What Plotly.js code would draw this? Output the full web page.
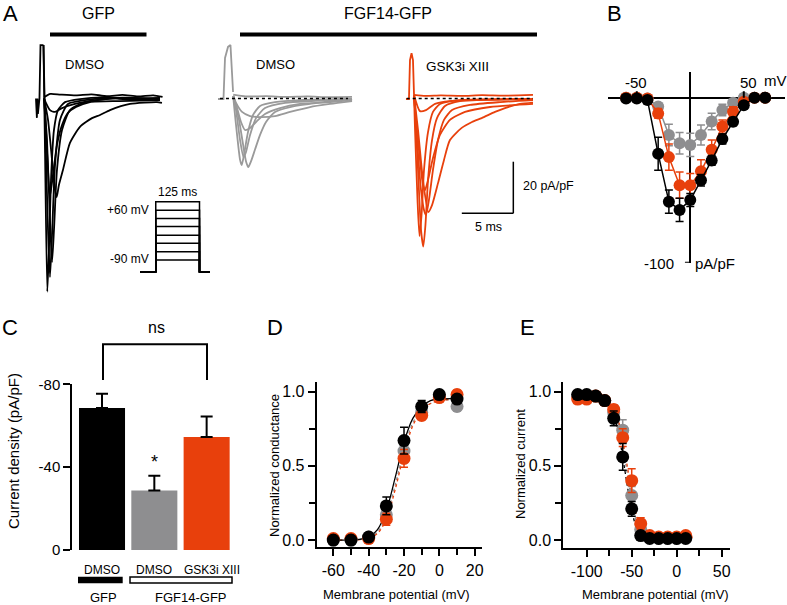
<!DOCTYPE html>
<html>
<head>
<meta charset="utf-8">
<script src="https://cdn.plot.ly/plotly-3.0.1.min.js"></script>
<style>
  html, body { margin: 0; padding: 0; background: #fff; }
  #fig { width: 787px; height: 605px; }
</style>
</head>
<body>
<div id="fig"></div>
<script>
// ---- colours
const cBlack = '#000000';
const cGray = '#8e8e90';
const cGrayTrace = '#9a9a9a';
const cOrange = '#e8400c';

// ---- A: current traces (time in ms, current in pA/pF)
const gfpArtifactT = [-0.39, -0.3, -0.25, -0.2, -0.05, 0.05, 0.34];
const gfpArtifactI = [0, -7.5, 0, -6, 0, 20.7, 20.7];
const gfpTraceT = [
  [0.34, 0.49, 0.71, 0.87, 1.07, 1.36, 1.75, 2.43, 3.88, 6.0, 8.5, 11.65],
  [0.34, 0.49, 0.78, 0.97, 1.17, 1.46, 1.94, 2.72, 4.37, 7.0, 9.5, 11.65],
  [0.4, 0.68, 0.97, 1.17, 1.36, 1.65, 2.14, 2.91, 4.37, 7.5, 11.65],
  [0.4, 0.58, 0.83, 0.97, 1.26, 1.65, 2.14, 2.72, 3.5, 4.85, 7.77, 11.65],
  [0.4, 0.78, 1.17, 1.46, 1.62, 1.84, 2.23, 2.91, 3.88, 5.05, 5.83, 6.8, 8.74, 11.36, 11.84],
  [0.4, 0.58, 0.97, 1.46, 2.14, 3.4, 4.85, 8.0, 11.65],
  [0.4, 1.0, 2.0, 3.5, 5.0, 6.5, 8.0, 9.5, 11.0, 11.9]
];
const gfpTraceI = [
  [20.7, -20.0, -74.9, -58.7, -31.6, -12.2, -4.5, -1.4, -0.2, 0.4, -0.3, 0.2],
  [20.7, -8.3, -51, -69.2, -52.9, -25.8, -8.3, -2.1, -0.6, 0.3, -0.4, 0.1],
  [0, -16.1, -47.1, -63.4, -50.9, -27.7, -12.2, -4.5, -1.4, 0.2, -0.2],
  [0, -12.2, -31.6, -37.8, -29.7, -18.0, -10.3, -5.6, -3.3, -1.4, -1.0, -0.6],
  [0, -8.3, -23.8, -35.5, -38.2, -33.5, -27.7, -17.2, -11.0, -7.6, -6.4, -4.5, -2.1, -1.4, -1.7],
  [0, -1.7, -4.5, -5.2, -3.7, -2.1, -1.0, 0.3, -0.2],
  [0.5, 1.8, 1.5, 1.2, 1.6, 0.9, 1.4, 0.8, 1.2, 0.6]
];

const fgfArtifactT = [-0.68, -0.15, 0, 0.29, 0.53, 0.78];
const fgfArtifactI = [-0.2, -0.2, 15.7, 20.0, 20.7, 2.5];
const fgfTraceT = [
  [0.8, 0.87, 1.17, 1.46, 1.62, 1.84, 2.23, 2.72, 3.4, 4.85, 7.28, 12.33],
  [0.8, 0.97, 1.36, 1.75, 2.04, 2.26, 2.52, 2.91, 3.4, 3.98, 4.85, 6.31, 8.25, 10.19, 12.33],
  [0.8, 1.07, 1.46, 1.8, 2.04, 2.43, 3.01, 3.88, 5.83, 12.33],
  [0.8, 1.17, 1.55, 1.94, 2.43, 3.01, 3.88, 5.34, 7.28, 10.19, 12.33],
  [0.8, 1.07, 1.65, 2.43, 3.4, 4.85, 6.31, 8.25, 10.19, 12.33],
  [0.8, 2, 4, 6, 8, 10, 12.33]
];
const fgfTraceI = [
  [1, -2.5, -14.1, -23.8, -25.8, -21.9, -13.0, -6.4, -2.9, -1.4, -0.6, -0.2],
  [1, -1.4, -8.3, -17.8, -24.4, -26.6, -24.4, -19.8, -14.1, -9.1, -5.2, -3.3, -2.1, -1.0, -0.2],
  [1, -4.5, -16.1, -22.7, -20.7, -14.1, -7.6, -3.7, -1.7, -0.2],
  [1, -3.7, -9.1, -12.2, -11.4, -9.1, -6.0, -3.7, -2.1, -1.4, -0.6],
  [1, -1.7, -5.2, -6.8, -7.2, -6.8, -5.2, -3.3, -2.1, -1.0],
  [1.5, 0.8, 0.9, 0.6, 0.8, 0.5, 0.6]
];

const gskArtifactT = [-0.39, -0.1, 0, 0.15, 0.29, 0.39];
const gskArtifactI = [-0.2, -0.2, 14.9, 17.6, 14.9, 1.4];
const gskTraceT = [
  [0.39, 0.49, 0.78, 1.07, 1.29, 1.5, 1.75, 2.14, 2.62, 3.4, 4.85, 11.94],
  [0.39, 0.49, 0.73, 0.92, 1.12, 1.36, 1.75, 2.23, 2.91, 4.85, 11.94],
  [0.39, 0.68, 1.07, 1.36, 1.55, 1.84, 2.23, 2.72, 3.3, 4.08, 5.83, 8.74, 11.94],
  [0.39, 0.78, 1.26, 1.78, 2.14, 2.72, 3.3, 3.88, 5.02, 6.02, 6.96, 8.25, 9.22, 10.68, 11.94],
  [0.39, 0.58, 0.97, 1.26, 1.46, 1.75, 2.23, 2.91, 3.88, 5.34, 7.77, 11.94],
  [0.39, 0.97, 1.55, 2.43, 3.88, 11.94],
  [0.39, 1.5, 3.0, 5.0, 7.0, 9.0, 11.94]
];
const gskTraceI = [
  [1.4, -4.5, -27.7, -51, -57.4, -49.0, -31.6, -16.1, -7.6, -2.9, -1.0, -0.2],
  [1.4, -12.2, -39.3, -53.3, -45.2, -27.7, -13.0, -5.2, -2.1, -0.6, -0.2],
  [1.4, -16.1, -35.5, -43.2, -45.2, -39.3, -27.7, -16.1, -8.3, -4.5, -2.5, -1.4, -0.6],
  [1.4, -12.2, -31.6, -44.0, -41.3, -32.8, -23.8, -16.1, -11.4, -9.1, -7.6, -5.2, -3.7, -2.1, -1.6],
  [1.4, -8.3, -23.8, -33.5, -35.5, -31.6, -23.1, -14.1, -8.3, -5.2, -3.3, -2.1],
  [1.4, -4.9, -4.5, -2.1, -1.0, -0.2],
  [1.4, 1.0, 1.2, 1.0, 1.3, 1.1, 1.4]
];

// voltage protocol (mV, ms)
const stepLevels = [-90, -69, -47, -26, -4, 17, 38, 60];
const holdingMv = -120;
const stepMs = 125, preMs = 45, postMs = 30;

// ---- B: I-V (mV, pA/pF)
const ivVoltage = [-60, -50, -40, -30, -20, -10, 0, 10, 20, 30, 40, 50, 60, 70];
const ivGfp = [-0.4, -0.4, -1.4, -34, -63, -68, -62, -50, -38, -25, -14.5, -4.5, 0, 0];
const ivGfpErr = [0.5, 0.5, 1, 10, 7, 7, 4, 3.5, 3, 3, 2.5, 2, 0.5, 0.5];
const ivFgf = [0, 0, -0.5, -5.3, -22.6, -27.6, -28.6, -22.6, -14.4, -7.4, -3, 0, 0, 0];
const ivFgfErr = [0.5, 0.5, 0.5, 2, 6.5, 6.5, 7, 6, 5, 3.5, 2, 1, 0.5, 0.5];
const ivGsk = [0, 0, -0.5, -9.5, -36, -53, -53, -44.6, -31.6, -17.5, -8.5, -2.5, 0, 0];
const ivGskErr = [0.5, 0.5, 0.5, 3, 8, 8, 7, 7, 6, 4, 3, 2, 0.5, 0.5];

// ---- C: peak current density
const barLabels = ['DMSO', 'DMSO', 'GSK3i XIII'];
const barValues = [-68.6, -28.7, -54.5];
const barErrors = [6.8, 7.1, 9.9];
const barColors = [cBlack, cGray, cOrange];

// ---- D: activation
const actVoltage = [-60, -50, -40, -30, -20, -10, 0, 10];
const actGfp = [0.0, 0.0, 0.02, 0.23, 0.67, 0.9, 0.98, 0.95];
const actGfpErr = [0.01, 0.01, 0.01, 0.06, 0.09, 0.04, 0.01, 0.02];
const actFgf = [0.0, 0.0, 0.02, 0.17, 0.6, 0.86, 0.97, 0.9];
const actFgfErr = [0.01, 0.01, 0.01, 0.05, 0.08, 0.03, 0.02, 0.03];
const actGsk = [0.01, 0.01, 0.01, 0.14, 0.55, 0.84, 0.96, 0.98];
const actGskErr = [0.01, 0.01, 0.01, 0.04, 0.06, 0.03, 0.02, 0.03];
const actFitV = [-60, -45, -40, -35, -30, -25, -20, -15, -10, -5, 0, 10];
const actFitGfp = [0, 0.005, 0.02, 0.07, 0.2, 0.42, 0.66, 0.82, 0.9, 0.94, 0.95, 0.955];
const actFitFgf = [0, 0.004, 0.015, 0.055, 0.165, 0.37, 0.61, 0.79, 0.88, 0.92, 0.94, 0.945];
const actFitGsk = [0, 0.003, 0.012, 0.045, 0.14, 0.34, 0.58, 0.77, 0.87, 0.92, 0.94, 0.95];

// ---- E: steady-state inactivation
const inaVoltage = [-110, -100, -90, -80, -70, -60, -50, -40, -30, -20, -10, 0, 10];
const inaGfp = [0.98, 0.98, 0.97, 0.94, 0.82, 0.56, 0.21, 0.03, 0.01, 0.01, 0.01, 0.01, 0.01];
const inaGfpErr = [0.02, 0.02, 0.02, 0.02, 0.05, 0.09, 0.05, 0.02, 0.01, 0.01, 0.01, 0.01, 0.01];
const inaFgf = [0.97, 0.97, 0.97, 0.94, 0.86, 0.74, 0.30, 0.07, 0.02, 0.01, 0.01, 0.01, 0.02];
const inaFgfErr = [0.02, 0.02, 0.02, 0.02, 0.04, 0.07, 0.06, 0.03, 0.01, 0.01, 0.01, 0.01, 0.01];
const inaGsk = [0.95, 0.95, 0.97, 0.94, 0.88, 0.69, 0.40, 0.11, 0.03, 0.02, 0.02, 0.02, 0.03];
const inaGskErr = [0.03, 0.02, 0.02, 0.02, 0.03, 0.06, 0.08, 0.04, 0.01, 0.01, 0.01, 0.01, 0.01];
const inaFitV = [-115, -90, -80, -75, -70, -65, -60, -55, -50, -45, -40, -35, -30, -20, 0, 18];
const inaFitGfp = [0.98, 0.97, 0.95, 0.92, 0.85, 0.73, 0.56, 0.37, 0.2, 0.09, 0.04, 0.02, 0.01, 0.01, 0.01, 0.01];
const inaFitFgf = [0.97, 0.97, 0.95, 0.93, 0.88, 0.79, 0.64, 0.45, 0.27, 0.13, 0.06, 0.03, 0.02, 0.01, 0.01, 0.01];
const inaFitGsk = [0.96, 0.96, 0.95, 0.93, 0.89, 0.81, 0.67, 0.5, 0.32, 0.17, 0.08, 0.04, 0.02, 0.02, 0.02, 0.02];

// ---------------------------------------------------------------
const W = 787, H = 605;
const X = p => p / W;
const Y = p => 1 - p / H;
const FONT = 'Liberation Sans, Arial, Helvetica, sans-serif';

const data = [];

function addTraces(ts, is, xa, color) {
  ts.forEach((t, k) => {
    data.push({ x: t, y: is[k], xaxis: xa, yaxis: 'y', mode: 'lines', type: 'scatter',
      line: { color: color, width: 1.8, shape: 'spline', smoothing: 0.6 }, hoverinfo: 'skip' });
  });
}
data.push({ x: gfpArtifactT, y: gfpArtifactI, xaxis: 'x', yaxis: 'y', mode: 'lines', line: { color: cBlack, width: 1.8 } });
addTraces(gfpTraceT, gfpTraceI, 'x', cBlack);
data.push({ x: fgfArtifactT, y: fgfArtifactI, xaxis: 'x2', yaxis: 'y', mode: 'lines', line: { color: cGrayTrace, width: 1.8 } });
addTraces(fgfTraceT, fgfTraceI, 'x2', cGrayTrace);
data.push({ x: [-0.49, 11.94], y: [0, 0], xaxis: 'x2', yaxis: 'y', mode: 'lines', line: { color: cBlack, width: 1.5, dash: 'dot' } });
data.push({ x: gskArtifactT, y: gskArtifactI, xaxis: 'x3', yaxis: 'y', mode: 'lines', line: { color: cOrange, width: 1.8 } });
addTraces(gskTraceT, gskTraceI, 'x3', cOrange);
data.push({ x: [-0.32, 11.94], y: [0, 0], xaxis: 'x3', yaxis: 'y', mode: 'lines', line: { color: cBlack, width: 1.5, dash: 'dot' } });

// protocol steps
stepLevels.forEach(v => {
  data.push({ x: [-preMs, 0, 0, stepMs, stepMs, stepMs + postMs], y: [holdingMv, holdingMv, v, v, holdingMv, holdingMv],
    xaxis: 'x4', yaxis: 'y4', mode: 'lines', line: { color: cBlack, width: 1.5 } });
});

// B
function ivSeries(y, err, color) {
  data.push({ x: ivVoltage, y: y, xaxis: 'x5', yaxis: 'y5', mode: 'lines+markers', type: 'scatter',
    line: { color: color, width: 1.5 },
    marker: { color: color, size: 12 },
    error_y: { type: 'data', array: err, color: color, thickness: 1.5, width: 4 }, cliponaxis: false });
}
ivSeries(ivFgf, ivFgfErr, cGray);
ivSeries(ivGsk, ivGskErr, cOrange);
ivSeries(ivGfp, ivGfpErr, cBlack);

// C
data.push({ x: [0, 1, 2], y: barValues, xaxis: 'x6', yaxis: 'y6', type: 'bar', width: 0.88,
  marker: { color: barColors, line: { width: 0 } },
  error_y: { type: 'data', symmetric: false, array: [0, 0, 0], arrayminus: barErrors, color: cBlack, thickness: 2, width: 6 } });

// D and E
function fitLine(xv, yv, xa, ya, color, dash) {
  data.push({ x: xv, y: yv, xaxis: xa, yaxis: ya, mode: 'lines', line: { color: color, width: 1.3, dash: dash, shape: 'spline' } });
}
function points(xv, yv, err, xa, ya, color) {
  data.push({ x: xv, y: yv, xaxis: xa, yaxis: ya, mode: 'markers', marker: { color: color, size: 13 },
    error_y: { type: 'data', array: err, color: color, thickness: 1.5, width: 4 }, cliponaxis: false });
}
fitLine(actFitV, actFitFgf, 'x7', 'y7', cGray, 'dot');
fitLine(actFitV, actFitGsk, 'x7', 'y7', cOrange, 'dot');
fitLine(actFitV, actFitGfp, 'x7', 'y7', cBlack, 'solid');
points(actVoltage, actFgf, actFgfErr, 'x7', 'y7', cGray);
points(actVoltage, actGsk, actGskErr, 'x7', 'y7', cOrange);
points(actVoltage, actGfp, actGfpErr, 'x7', 'y7', cBlack);

fitLine(inaFitV, inaFitFgf, 'x8', 'y8', cGray, 'dot');
fitLine(inaFitV, inaFitGsk, 'x8', 'y8', cOrange, 'dot');
fitLine(inaFitV, inaFitGfp, 'x8', 'y8', cBlack, 'dot');
points(inaVoltage, inaFgf, inaFgfErr, 'x8', 'y8', cGray);
points(inaVoltage, inaGsk, inaGskErr, 'x8', 'y8', cOrange);
points(inaVoltage, inaGfp, inaGfpErr, 'x8', 'y8', cBlack);

// ---- axes
function hidden(dom, rng, anchor) {
  return { domain: dom, range: rng, anchor: anchor, showgrid: false, zeroline: false, showline: false,
    showticklabels: false, ticks: '', fixedrange: true };
}
function shown(dom, rng, anchor, vals, texts, minorVals, size) {
  return { domain: dom, range: rng, anchor: anchor, showgrid: false, zeroline: false, showline: true,
    linewidth: 2, linecolor: cBlack, ticks: 'outside', ticklen: 7, tickwidth: 2, tickcolor: cBlack,
    tickvals: vals, ticktext: texts, tickfont: { size: size || 16, color: cBlack },
    minor: minorVals ? { tickvals: minorVals, ticks: 'outside', ticklen: 6, tickwidth: 2, tickcolor: cBlack, showgrid: false } : undefined };
}

const layout = {
  width: W, height: H, margin: { l: 0, r: 0, t: 0, b: 0 },
  paper_bgcolor: '#fff', plot_bgcolor: 'rgba(0,0,0,0)', showlegend: false,
  font: { family: FONT, color: cBlack },
  xaxis: hidden([X(34), X(164)], [-0.58, 12.04], 'y'),
  xaxis2: hidden([X(214), X(354)], [-1.07, 12.52], 'y'),
  xaxis3: hidden([X(400), X(540)], [-0.97, 12.62], 'y'),
  yaxis: hidden([Y(300), Y(30)], [-78.1, 26.55], 'x'),
  xaxis4: hidden([X(135), X(215)], [-59.3, 169.3], 'y4'),
  yaxis4: hidden([Y(280), Y(195)], [-141.3, 77.2], 'x4'),
  xaxis5: Object.assign(hidden([X(608.3), X(785)], [-76.6, 88.5], 'y5'), { zeroline: true, zerolinewidth: 2, zerolinecolor: cBlack }),
  yaxis5: Object.assign(hidden([Y(262.7), Y(72)], [-100, 15.6], 'x5'), { zeroline: true, zerolinewidth: 2, zerolinecolor: cBlack }),
  xaxis6: hidden([X(72.3), X(232.8)], [-0.568, 2.5], 'y6'),
  yaxis6: shown([Y(550), Y(384.3)], [0, -80], 'x6', [0, -40, -80], ['0', '-40', '-80'], null, 15),
  xaxis7: shown([X(316.7), X(481.7)], [-69.4, 23.96], 'y7', [-60, -40, -20, 0, 20], ['-60', '-40', '-20', '0', '20'], [-50, -30, -10, 10]),
  yaxis7: shown([Y(547.3), Y(381.7)], [-0.049, 1.067], 'x7', [0, 0.5, 1], ['0.0', '0.5', '1.0'], [0.25, 0.75]),
  xaxis8: shown([X(563.3), X(730)], [-126, 59.2], 'y8', [-100, -50, 0, 50], ['-100', '-50', '0', '50'], [-75, -25, 25]),
  yaxis8: shown([Y(548.3), Y(381.7)], [-0.056, 1.067], 'x8', [0, 0.5, 1], ['0.0', '0.5', '1.0'], [0.25, 0.75]),
  shapes: [],
  annotations: []
};

function txt(text, x, y, size, opts) {
  layout.annotations.push(Object.assign({ text: text, x: X(x), y: Y(y), xref: 'paper', yref: 'paper',
    showarrow: false, xanchor: 'center', yanchor: 'middle', font: { size: size, color: cBlack, family: FONT } }, opts || {}));
}
function rect(x0, y0, x1, y1, fill, lineW) {
  layout.shapes.push({ type: 'rect', xref: 'paper', yref: 'paper', x0: X(x0), x1: X(x1), y0: Y(y0), y1: Y(y1),
    fillcolor: fill, line: { color: cBlack, width: lineW } });
}
function seg(x0, y0, x1, y1, w, xref, yref) {
  layout.shapes.push({ type: 'line', xref: xref || 'paper', yref: yref || 'paper',
    x0: xref ? x0 : X(x0), x1: xref ? x1 : X(x1), y0: yref ? y0 : Y(y0), y1: yref ? y1 : Y(y1),
    line: { color: cBlack, width: w } });
}

// panel letters
txt('A', 10, 13, 22);
txt('B', 614, 13, 22);
txt('C', 10, 327, 22);
txt('D', 275, 328, 22);
txt('E', 527, 328, 22);

// A headers
txt('GFP', 98, 13, 16);
rect(50, 32.5, 146.5, 36.5, cBlack, 0);
txt('FGF14-GFP', 388, 13, 16);
rect(240, 32.5, 537, 36.5, cBlack, 0);
txt('DMSO', 84, 64, 13);
txt('DMSO', 275, 64, 13);
txt('GSK3i XIII', 457, 67, 13.5);
// protocol labels
txt('125 ms', 177, 192, 12);
txt('+60 mV', 151, 210, 12, { xanchor: 'right' });
txt('-90 mV', 151, 259, 12, { xanchor: 'right' });
// scale bar (20 pA/pF, 5 ms) in GSK axis units
seg(10.03, -24.5, 10.03, -44.5, 1.5, 'x3', 'y');
seg(5.03, -44.5, 10.03, -44.5, 1.5, 'x3', 'y');
txt('20 pA/pF', 521, 186, 12.5, { xanchor: 'left' });
txt('5 ms', 488, 227, 12.5);

// B axis decorations
seg(-50, 0, -50, 4, 2, 'x5', 'y5');
seg(50, 0, 50, 4, 2, 'x5', 'y5');
seg(-5, -100, 0, -100, 2, 'x5', 'y5');
txt('-50', 636, 82, 15);
txt('50', 748, 82, 15);
txt('mV', 762, 81, 15, { xanchor: 'left' });
txt('-100', 676, 263, 15, { xanchor: 'right' });
txt('pA/pF', 693, 263, 15, { xanchor: 'left' });

// C decorations
txt('Current density (pA/pF)', 13, 451, 15, { textangle: -90 });
barLabels.forEach((b, k) => {
  layout.annotations.push({ text: b, x: k + (k === 2 ? 0.1 : 0), y: Y(570), xref: 'x6', yref: 'paper', showarrow: false,
    font: { size: 12, color: cBlack, family: FONT }, yanchor: 'middle' });
});
rect(78, 576.7, 122.7, 583.3, cBlack, 0);
rect(130, 577, 232, 583, '#fff', 1.5);
txt('GFP', 103, 597, 13);
txt('FGF14-GFP', 191, 597, 13);
layout.shapes.push({ type: 'path', xref: 'paper', yref: 'paper',
  path: `M ${X(103)},${Y(380)} L ${X(103)},${Y(344.3)} L ${X(207)},${Y(344.3)} L ${X(207)},${Y(380)}`,
  line: { color: cBlack, width: 2 } });
txt('ns', 156, 327, 16);
layout.annotations.push({ text: '*', x: 1, y: barValues[1] - barErrors[1], xref: 'x6', yref: 'y6', showarrow: false,
  yanchor: 'bottom', yshift: 2, font: { size: 18, color: cBlack, family: FONT } });

// D, E titles
txt('Normalized conductance', 274, 466, 13, { textangle: -90 });
txt('Membrane potential (mV)', 396, 594, 13);
txt('Normalized current', 520, 464, 13, { textangle: -90 });
txt('Membrane potential (mV)', 655, 594, 13);

Plotly.newPlot('fig', data, layout, { staticPlot: true });
</script>
</body>
</html>
